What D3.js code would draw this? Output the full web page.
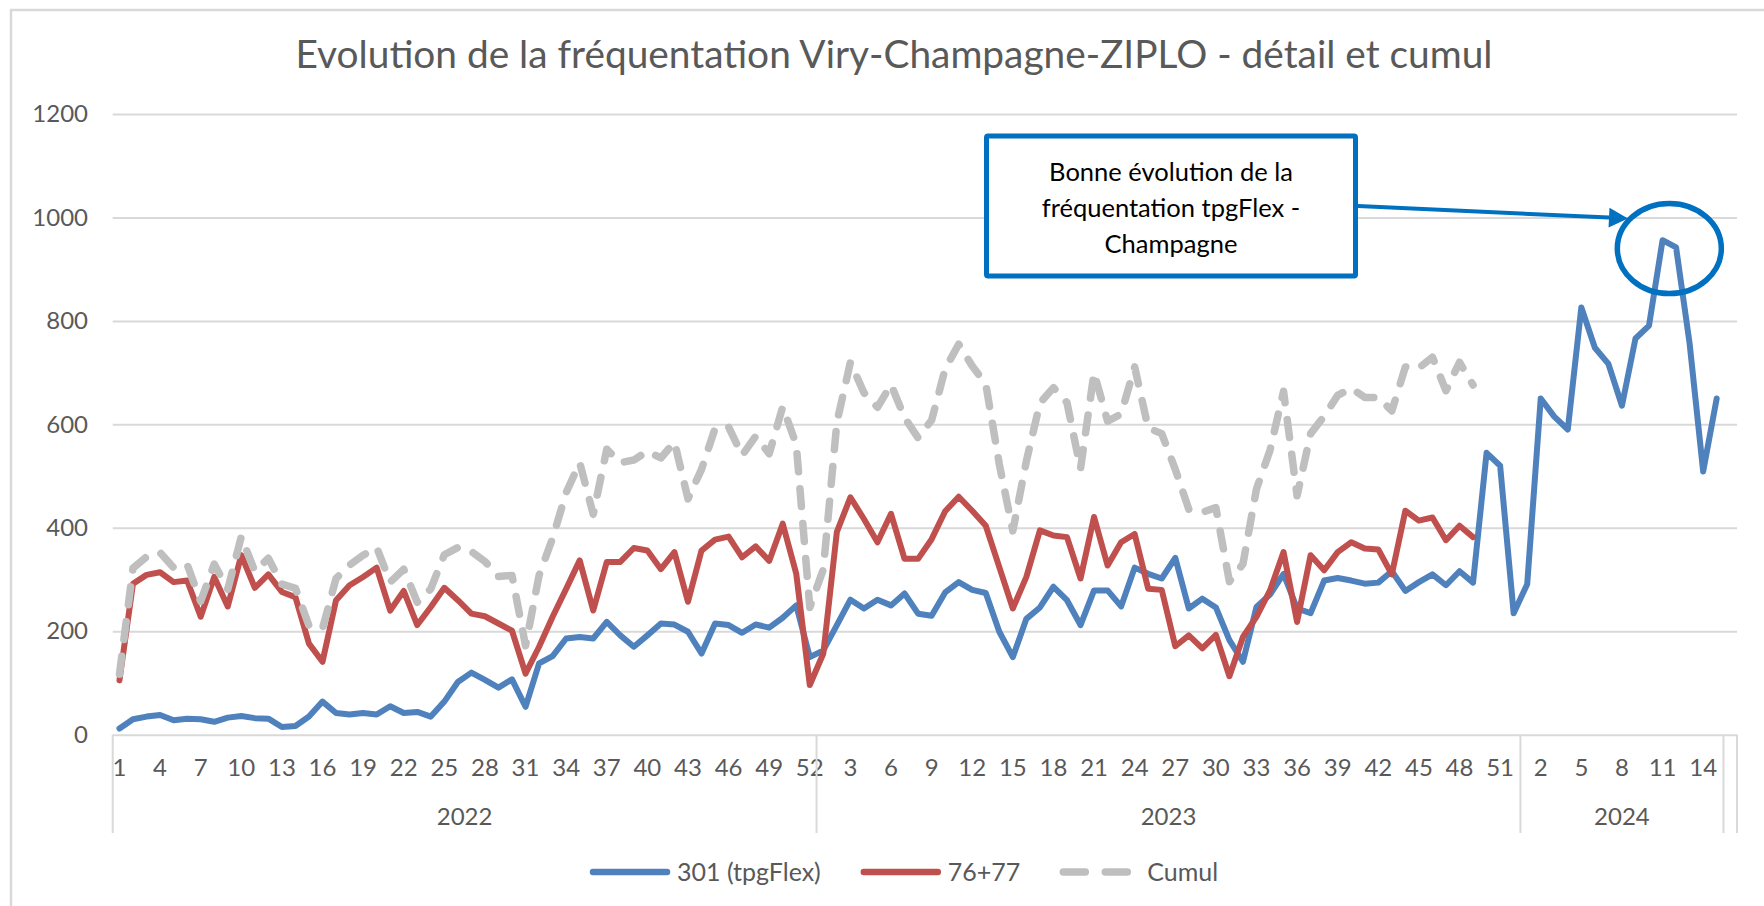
<!DOCTYPE html>
<html>
<head>
<meta charset="utf-8">
<script src="https://cdn.jsdelivr.net/npm/d3@7"></script>
<style>
body{margin:0;background:#fff}
svg{display:block}
text{font-family:Lato,"Open Sans",sans-serif}
</style>
</head>
<body>
<div id="chart"></div>
<script>
// donnees (semaines 2022 -> 2024)
var title="Evolution de la fréquentation Viry-Champagne-ZIPLO - détail et cumul"
var years=["2022","2023","2024"]
var weeksPerYear=[52,52,15]
var yTicks=[0,200,400,600,800,1000,1200]
var seriesNames=["301 (tpgFlex)","76+77","Cumul"]
var seriesColors=["#4f81bd","#c0504d","#bfbfbf"]
var noteLines=["Bonne évolution de la","fréquentation tpgFlex -","Champagne"]

var tpgFlex=[12,30,35,38,28,31,30,25,33,36,32,31,15,17,35,64,42,39,42,39,
55,42,44,35,64,102,120,106,91,107,54,138,152,186,189,186,218,192,170,192,
215,213,199,157,215,212,197,213,207,226,250,150,163,212,261,244,261,250,273,234,
230,275,295,280,274,199,150,224,246,286,260,212,279,279,248,323,311,302,342,244,
263,246,183,141,247,271,311,244,235,298,303,298,292,294,316,278,295,310,289,316,
294,545,520,235,291,650,615,590,826,748,717,636,766,791,956,942,756,509,650]

var lignes7677=[105,292,309,314,295,298,228,305,248,347,284,310,276,266,176,141,260,289,305,323,
240,278,212,247,284,260,234,229,215,201,118,170,228,282,337,240,334,334,361,356,
320,353,257,356,377,383,343,364,336,408,311,96,157,392,459,417,372,427,340,340,
378,432,460,433,404,324,244,305,395,385,382,302,421,327,372,388,282,280,171,192,
167,193,113,189,228,279,353,218,347,318,353,372,360,358,310,433,414,420,376,404,
382]

var cumul=[117,322,344,352,323,329,258,330,281,383,316,341,291,283,211,205,302,328,347,362,
295,320,256,282,348,362,354,335,306,308,172,308,380,468,526,426,552,526,531,548,
535,566,456,513,592,595,540,577,543,634,561,246,320,604,720,661,633,677,613,574,
608,707,755,713,678,523,394,529,641,671,642,514,700,606,620,711,593,582,513,436,
430,439,296,330,475,550,664,462,582,616,656,670,652,652,626,711,709,730,665,720,
676]

chart()
function chart(){
var width=1764,height=906
var left=112.7,right=1737,top=114,bottom=734.7
var grey="#595959",lineGrey="#d9d9d9",noteBlue="#0070c0"

var svg=d3.select("#chart").append("svg")
	.attr("width",width)
	.attr("height",height)

// cadre du graphique
svg.append("rect")
	.attr("x",11).attr("y",10)
	.attr("width",1800).attr("height",1000)
	.attr("fill","none")
	.attr("stroke",lineGrey)
	.attr("stroke-width",2.5)

// categories: annee + semaine, plus une case vide a la fin
var cats=[]
years.forEach(function(yr,k){
	for(var w=1;w<=weeksPerYear[k];w++){
		cats.push({key:yr+"-"+w,year:yr,week:w})
	}
})
cats.push({key:"vide",year:"",week:""})

var x=d3.scaleBand().domain(cats.map(function(c){return c.key})).range([left,right])
var bw=x.bandwidth()
var y=d3.scaleLinear().domain([0,1200]).range([bottom,top])
function cx(i){return x(cats[i].key)+bw/2}

// titre, ajuste a la largeur lue
var t=svg.append("text")
	.attr("x",894).attr("y",68)
	.attr("text-anchor","middle")
	.attr("fill",grey)
	.attr("font-size",32)
	.text(title)
var tl=t.node().getComputedTextLength()
t.attr("font-size",32*1197/tl)

// axe Y + grille
var yAxis=svg.append("g")
	.attr("transform","translate("+left+",0)")
	.call(d3.axisLeft(y).tickValues(yTicks).tickFormat(d3.format("d"))
		.tickSize(-(right-left)).tickPadding(24.7))
yAxis.select(".domain").remove()
yAxis.selectAll("line").attr("stroke",lineGrey).attr("stroke-width",2)
yAxis.selectAll("text").attr("fill",grey).attr("font-size",24)

// axe X (semaines)
var tickKeys=cats.filter(function(c,i){return i%3==0 && c.week!==""}).map(function(c){return c.key})
var xAxis=svg.append("g")
	.attr("transform","translate(0,"+bottom+")")
	.call(d3.axisBottom(x).tickValues(tickKeys)
		.tickFormat(function(k){return k.split("-")[1]})
		.tickSize(0).tickPadding(24.5))
xAxis.select(".domain").remove()
xAxis.selectAll("text").attr("fill",grey).attr("font-size",24)

// separateurs et annees
var seps=[]
years.forEach(function(yr){seps.push(x(yr+"-1"))})
seps.push(x(years[2]+"-"+weeksPerYear[2])+bw)
seps.push(right)
svg.selectAll(".sep").data(seps).enter().append("line")
	.attr("class","sep")
	.attr("x1",function(d){return d}).attr("x2",function(d){return d})
	.attr("y1",bottom).attr("y2",833)
	.attr("stroke",lineGrey).attr("stroke-width",2)

svg.selectAll(".year").data(years).enter().append("text")
	.attr("class","year")
	.attr("x",function(d,k){return (x(d+"-1")+x(d+"-"+weeksPerYear[k])+bw)/2})
	.attr("y",825)
	.attr("text-anchor","middle")
	.attr("fill",grey)
	.attr("font-size",24)
	.text(function(d){return d})

// courbes
var line=d3.line()
	.x(function(d,i){return cx(i)})
	.y(function(d){return y(d)})
var series=[tpgFlex,lignes7677,cumul]
series.forEach(function(s,k){
	svg.append("path")
		.datum(s)
		.attr("d",line)
		.attr("fill","none")
		.attr("stroke",seriesColors[k])
		.attr("stroke-width",k==2?7.5:6)
		.attr("stroke-linejoin","round")
		.attr("stroke-linecap","round")
		.attr("stroke-dasharray",k==2?"18,17":null)
})

// legende
var lx=590,ly=872
seriesNames.forEach(function(n,k){
	svg.append("line")
		.attr("x1",lx+3).attr("x2",lx+77)
		.attr("y1",ly).attr("y2",ly)
		.attr("stroke",seriesColors[k])
		.attr("stroke-width",k==2?7.5:6.5)
		.attr("stroke-linecap","round")
		.attr("stroke-dasharray",k==2?"22,20":null)
	var lt=svg.append("text")
		.attr("x",lx+87).attr("y",ly+8.5)
		.attr("fill",grey)
		.attr("font-size",25)
		.text(n)
	lx=lx+87+lt.node().getComputedTextLength()+40
})

// annotation
var pkx=(cx(104+10)+cx(104+11))/2,pky=y(940)
svg.append("ellipse")
	.attr("cx",pkx).attr("cy",pky)
	.attr("rx",52).attr("ry",45)
	.attr("fill","none")
	.attr("stroke",noteBlue)
	.attr("stroke-width",5.5)

var x0=1358,y0=206,x1=1628,y1=218.5
var ang=Math.atan2(y1-y0,x1-x0)
var hl=19,hw=10
var bx=x1-hl*Math.cos(ang),by=y1-hl*Math.sin(ang)
svg.append("line")
	.attr("x1",x0).attr("y1",y0)
	.attr("x2",bx).attr("y2",by)
	.attr("stroke",noteBlue)
	.attr("stroke-width",4)
svg.append("path")
	.attr("d","M"+x1+","+y1+"L"+(bx+hw*Math.sin(ang))+","+(by-hw*Math.cos(ang))+"L"+(bx-hw*Math.sin(ang))+","+(by+hw*Math.cos(ang))+"Z")
	.attr("fill",noteBlue)

svg.append("rect")
	.attr("x",986.5).attr("y",136)
	.attr("width",369).attr("height",140)
	.attr("fill","#fff")
	.attr("stroke",noteBlue)
	.attr("stroke-width",5)
	.attr("rx",1.5)
noteLines.forEach(function(s,k){
	svg.append("text")
		.attr("x",1171).attr("y",181+k*35.8)
		.attr("text-anchor","middle")
		.attr("fill","#000")
		.attr("font-size",25.5)
		.text(s)
})
}
</script>
</body>
</html>
